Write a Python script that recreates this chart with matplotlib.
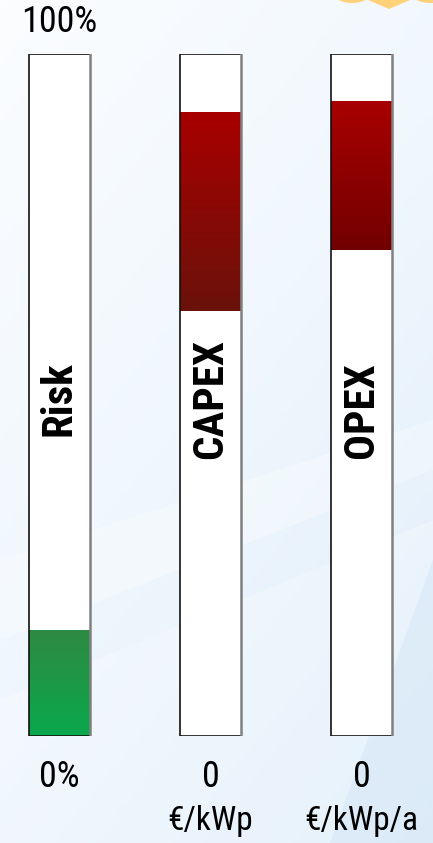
import numpy as np
import matplotlib
matplotlib.use("Agg")
import matplotlib.pyplot as plt
from matplotlib.colors import LinearSegmentedColormap
from matplotlib.patches import Polygon, Ellipse

# gauge values, as fractions of the full tube (0% .. 100%)
gauges = ["Risk", "CAPEX", "OPEX"]
fill_low = [0.0, 0.623, 0.713]
fill_high = [0.155, 0.915, 0.931]
bottom_labels = ["0%", "0", "0"]
unit_labels = ["", "€/kWp", "€/kWp/a"]
top_label = "100%"

# colours of each fill, top -> bottom
fill_colors = [("#2e8a42", "#0aa84c"), ("#a80000", "#6a120a"), ("#a80000", "#720000")]

plt.rcParams['font.family'] = ['Roboto Condensed', 'DejaVu Sans']

W, H = 433, 843
fig = plt.figure(figsize=(W / 100, H / 100), dpi=100)

# soft blue backdrop
bg = fig.add_axes([0, 0, 1, 1])
yy, xx = np.mgrid[0:1:200j, 0:1:100j]
t = np.clip(0.55 * yy + 0.35 * xx, 0, 1)
back = LinearSegmentedColormap.from_list("back", ["#fbfdff", "#eef6fd", "#d9eaf9"])
bg.imshow(t, cmap=back, extent=[0, W, H, 0], aspect="auto", vmin=0, vmax=1)
bg.add_patch(Polygon([[0, 843], [0, 700], [433, 520], [433, 843]], closed=True,
                     facecolor="#ffffff", alpha=0.25, lw=0))
bg.add_patch(Polygon([[330, 843], [433, 560], [433, 843]], closed=True,
                     facecolor="#d4e6f7", alpha=0.5, lw=0))
bg.add_patch(Polygon([[0, 560], [433, 420], [433, 470], [0, 640]], closed=True,
                     facecolor="#ffffff", alpha=0.3, lw=0))
# bit of the sun logo peeking in at the top
for cx in (352, 430):
    bg.add_patch(Ellipse((cx, -3), 30, 12, facecolor="#ffd27a", lw=0))
bg.add_patch(Polygon([[368, 0], [410, 0], [389, 9]], closed=True, facecolor="#ffd27a", lw=0))
bg.set_xlim(0, W)
bg.set_ylim(H, 0)
bg.axis("off")

ax = fig.add_axes([0, (H - 736) / H, 1, 682 / H])
ax.patch.set_alpha(0)
ax.axis("off")

bw = 0.404
x = np.arange(len(gauges))

# empty tubes
ax.bar(x, [1] * len(gauges), width=bw, color="white", edgecolor="none", zorder=1)

# gradient fills
for i in range(len(gauges)):
    h = fill_high[i] - fill_low[i]
    r = ax.bar(x[i], h, bottom=fill_low[i], width=bw, color="none", edgecolor="none", zorder=2)[0]
    cm = LinearSegmentedColormap.from_list("f%d" % i, fill_colors[i])
    im = ax.imshow(np.linspace(0, 1, 100).reshape(-1, 1), cmap=cm, aspect="auto",
                   extent=[x[i] - bw / 2, x[i] + bw / 2, fill_low[i], fill_high[i]], zorder=2)
    im.set_clip_path(r)

ax.set_xlim(-0.394, 2.4735)
ax.set_ylim(0, 1)

# tube outlines: dark left/top/bottom, grey right edge
for xi in x:
    ax.plot([xi + bw / 2, xi - bw / 2, xi - bw / 2, xi + bw / 2],
            [1, 1, 0, 0], color="#111111", lw=1.2, zorder=3, solid_capstyle="butt")
    ax.plot([xi + bw / 2, xi + bw / 2], [1, 0], color="#808080", lw=1.8, zorder=3)

# names inside the tubes
name_y = [0.494, 0.494, 0.478]
for xi, name, ny in zip(x, gauges, name_y):
    ax.text(xi, ny, name, rotation=90, ha="center", va="center",
            fontsize=31, fontweight="bold", color="black", zorder=4)

ax.text(x[0], 1.047, top_label, ha="center", va="center", fontsize=26, clip_on=False)
for xi, lab, unit in zip(x, bottom_labels, unit_labels):
    ax.text(xi, -0.060, lab, ha="center", va="center", fontsize=26, clip_on=False)
    if unit:
        ax.text(xi, -0.125, unit, ha="center", va="center", fontsize=24, clip_on=False)

fig.savefig("out.png", dpi=100)
